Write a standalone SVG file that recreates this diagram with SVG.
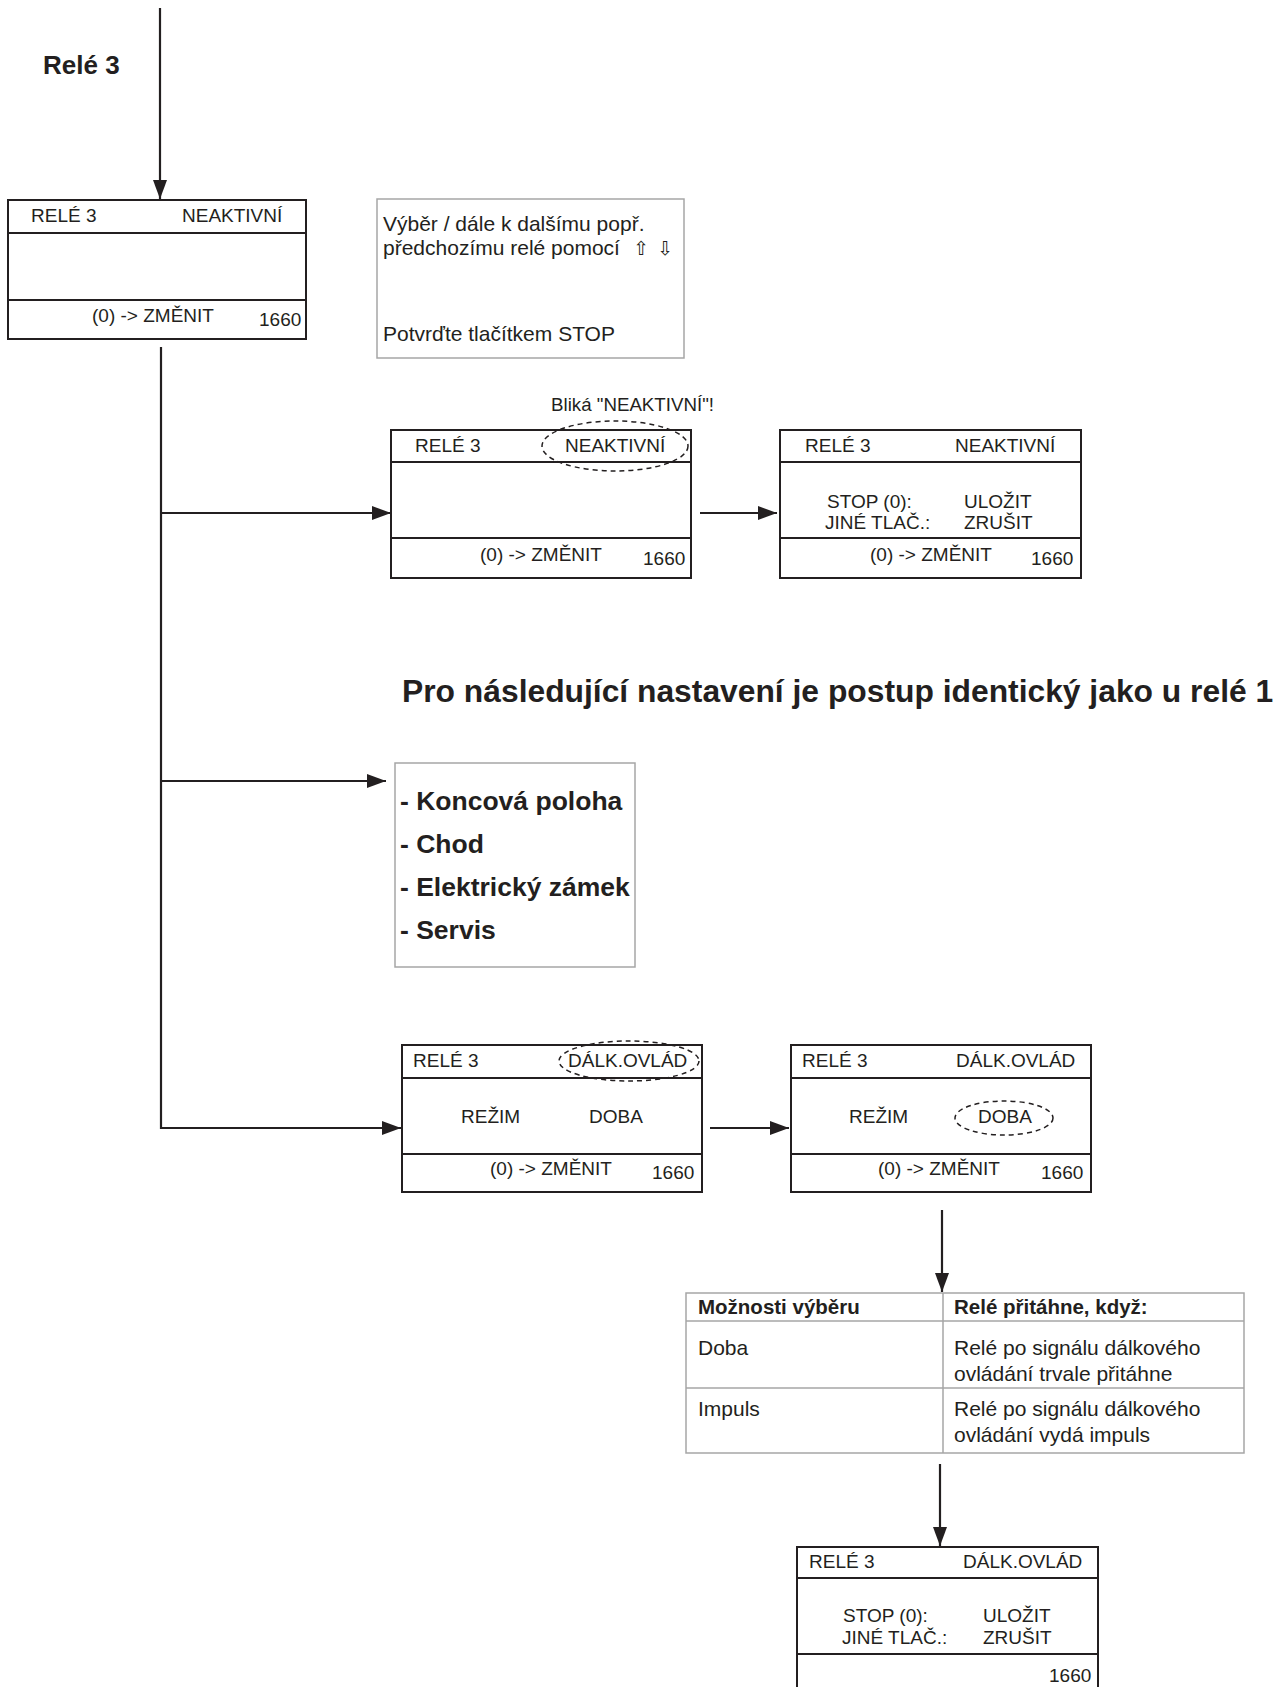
<svg xmlns="http://www.w3.org/2000/svg" width="1282" height="1687" viewBox="0 0 1282 1687">
<defs>
<marker id="ah" markerWidth="20" markerHeight="14" refX="19" refY="7" orient="auto" markerUnits="userSpaceOnUse"><path d="M0,0 L19,7 L0,14 z" fill="#231f20"/></marker>
</defs>
<style>
.box{fill:#fff;stroke:#231f20;stroke-width:2}
.dv{stroke:#231f20;stroke-width:2}
.gbox{fill:#fff;stroke:#a6a6a6;stroke-width:1.5}
.gl{stroke:#a6a6a6;stroke-width:1.5}
.t{font-family:"Liberation Sans",Arial,sans-serif;font-size:19px;fill:#231f20}
.i{font-family:"Liberation Sans",Arial,sans-serif;font-size:21px;fill:#231f20}
.b{font-family:"Liberation Sans",Arial,sans-serif;font-weight:bold;fill:#231f20}
.ar{font-family:"DejaVu Sans",sans-serif;font-size:19px;fill:#231f20}
.ell{fill:none;stroke:#231f20;stroke-width:1.5;stroke-dasharray:5 4}
.con{fill:none;stroke:#231f20;stroke-width:2.2}
</style>
<rect width="1282" height="1687" fill="#fff"/>

<text class="b" x="43" y="74" font-size="26">Relé 3</text>

<g id="connectors">
<path class="con" d="M160,8 V199" marker-end="url(#ah)"/>
<path class="con" d="M161,347 V1128 H401" marker-end="url(#ah)"/>
<path class="con" d="M161,513 H391" marker-end="url(#ah)"/>
<path class="con" d="M161,781 H386" marker-end="url(#ah)"/>
<path class="con" d="M700,513 H777" marker-end="url(#ah)"/>
<path class="con" d="M710,1128 H789" marker-end="url(#ah)"/>
<path class="con" d="M942,1210 V1292" marker-end="url(#ah)"/>
<path class="con" d="M940,1464 V1546" marker-end="url(#ah)"/>
</g>

<g id="box1">
<rect class="box" x="8" y="200" width="298" height="139"/>
<line class="dv" x1="8" y1="233" x2="306" y2="233"/>
<line class="dv" x1="8" y1="300" x2="306" y2="300"/>
<text class="t" x="31" y="222">RELÉ 3</text>
<text class="t" x="182" y="222">NEAKTIVNÍ</text>
<text class="t" x="92" y="322">(0) -&gt; ZMĚNIT</text>
<text class="t" x="259" y="326">1660</text>
</g>

<g id="info">
<rect class="gbox" x="377" y="199" width="307" height="159"/>
<text class="i" x="383" y="231">Výběr / dále k dalšímu popř.</text>
<text class="i" x="383" y="255">předchozímu relé pomocí</text>
<text class="ar" x="633" y="255">⇧</text>
<text class="ar" x="657" y="255">⇩</text>
<text class="i" x="383" y="341">Potvrďte tlačítkem STOP</text>
</g>

<text class="t" x="551" y="411" font-size="15" textLength="163" lengthAdjust="spacingAndGlyphs">Bliká "NEAKTIVNÍ"!</text>

<g id="box2">
<rect class="box" x="391" y="430" width="300" height="148"/>
<line class="dv" x1="391" y1="462" x2="691" y2="462"/>
<line class="dv" x1="391" y1="538" x2="691" y2="538"/>
<text class="t" x="415" y="452">RELÉ 3</text>
<text class="t" x="565" y="452">NEAKTIVNÍ</text>
<ellipse class="ell" cx="615" cy="446" rx="73" ry="25"/>
<text class="t" x="480" y="561">(0) -&gt; ZMĚNIT</text>
<text class="t" x="643" y="565">1660</text>
</g>

<g id="box3">
<rect class="box" x="780" y="430" width="301" height="148"/>
<line class="dv" x1="780" y1="462" x2="1081" y2="462"/>
<line class="dv" x1="780" y1="538" x2="1081" y2="538"/>
<text class="t" x="805" y="452">RELÉ 3</text>
<text class="t" x="955" y="452">NEAKTIVNÍ</text>
<text class="t" x="827" y="508">STOP (0):</text>
<text class="t" x="964" y="508">ULOŽIT</text>
<text class="t" x="825" y="529">JINÉ TLAČ.:</text>
<text class="t" x="964" y="529">ZRUŠIT</text>
<text class="t" x="870" y="561">(0) -&gt; ZMĚNIT</text>
<text class="t" x="1031" y="565">1660</text>
</g>

<text class="b" x="402" y="702" font-size="31.8">Pro následující nastavení je postup identický jako u relé 1</text>

<g id="list">
<rect class="gbox" x="395" y="763" width="240" height="204"/>
<text class="b" x="400" y="810" font-size="26.5">- Koncová poloha</text>
<text class="b" x="400" y="853" font-size="26.5">- Chod</text>
<text class="b" x="400" y="896" font-size="26.5">- Elektrický zámek</text>
<text class="b" x="400" y="939" font-size="26.5">- Servis</text>
</g>

<g id="box4">
<rect class="box" x="402" y="1045" width="300" height="147"/>
<line class="dv" x1="402" y1="1078" x2="702" y2="1078"/>
<line class="dv" x1="402" y1="1154" x2="702" y2="1154"/>
<text class="t" x="413" y="1067">RELÉ 3</text>
<text class="t" x="568" y="1067">DÁLK.OVLÁD</text>
<ellipse class="ell" cx="629" cy="1061" rx="70" ry="20"/>
<text class="t" x="461" y="1123">REŽIM</text>
<text class="t" x="589" y="1123">DOBA</text>
<text class="t" x="490" y="1175">(0) -&gt; ZMĚNIT</text>
<text class="t" x="652" y="1179">1660</text>
</g>

<g id="box5">
<rect class="box" x="791" y="1045" width="300" height="147"/>
<line class="dv" x1="791" y1="1078" x2="1091" y2="1078"/>
<line class="dv" x1="791" y1="1154" x2="1091" y2="1154"/>
<text class="t" x="802" y="1067">RELÉ 3</text>
<text class="t" x="956" y="1067">DÁLK.OVLÁD</text>
<text class="t" x="849" y="1123">REŽIM</text>
<text class="t" x="978" y="1123">DOBA</text>
<ellipse class="ell" cx="1004" cy="1118" rx="49" ry="17"/>
<text class="t" x="878" y="1175">(0) -&gt; ZMĚNIT</text>
<text class="t" x="1041" y="1179">1660</text>
</g>

<g id="table">
<rect class="gbox" x="686" y="1293" width="558" height="160"/>
<line class="gl" x1="686" y1="1321" x2="1244" y2="1321"/>
<line class="gl" x1="686" y1="1388" x2="1244" y2="1388"/>
<line class="gl" x1="943" y1="1293" x2="943" y2="1453"/>
<text class="b" x="698" y="1314" font-size="20.5">Možnosti výběru</text>
<text class="b" x="954" y="1314" font-size="20.5">Relé přitáhne, když:</text>
<text class="i" x="698" y="1355">Doba</text>
<text class="i" x="954" y="1355">Relé po signálu dálkového</text>
<text class="i" x="954" y="1381">ovládání trvale přitáhne</text>
<text class="i" x="698" y="1416">Impuls</text>
<text class="i" x="954" y="1416">Relé po signálu dálkového</text>
<text class="i" x="954" y="1442">ovládání vydá impuls</text>
</g>

<g id="box6">
<rect class="box" x="797" y="1547" width="301" height="160"/>
<line class="dv" x1="797" y1="1578" x2="1098" y2="1578"/>
<line class="dv" x1="797" y1="1654" x2="1098" y2="1654"/>
<text class="t" x="809" y="1568">RELÉ 3</text>
<text class="t" x="963" y="1568">DÁLK.OVLÁD</text>
<text class="t" x="843" y="1622">STOP (0):</text>
<text class="t" x="983" y="1622">ULOŽIT</text>
<text class="t" x="842" y="1644">JINÉ TLAČ.:</text>
<text class="t" x="983" y="1644">ZRUŠIT</text>
<text class="t" x="1049" y="1682">1660</text>
</g>
</svg>
